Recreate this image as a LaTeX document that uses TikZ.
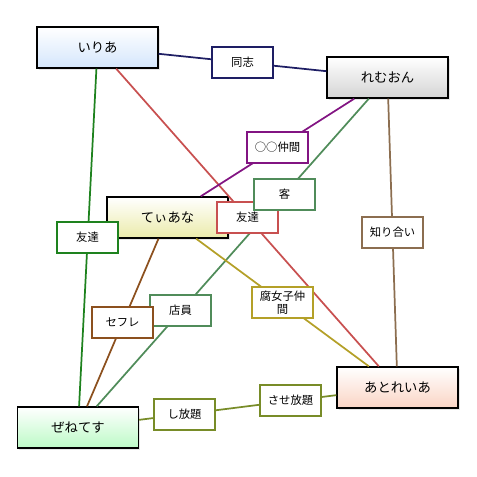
\documentclass[tikz,border=0pt]{standalone}
\usepackage{fontspec}
\setmainfont{Noto Sans CJK JP}
\usetikzlibrary{shadows}

\definecolor{linknavy}{RGB}{30,30,100}
\definecolor{linkgreen}{RGB}{30,130,30}
\definecolor{linkred}{RGB}{200,80,80}
\definecolor{linkpurple}{RGB}{130,20,130}
\definecolor{linkteal}{RGB}{80,140,90}
\definecolor{linktan}{RGB}{140,110,80}
\definecolor{linkbrown}{RGB}{140,80,30}
\definecolor{linkgold}{RGB}{180,160,40}
\definecolor{linkolive}{RGB}{120,140,40}
\definecolor{fillblue}{RGB}{212,230,252}
\definecolor{fillgray}{RGB}{212,212,212}
\definecolor{fillyellow}{RGB}{235,235,170}
\definecolor{fillpink}{RGB}{250,212,196}
\definecolor{fillgreen}{RGB}{188,250,198}

\tikzset{
  person/.style={draw=black, line width=1pt, rectangle, minimum width=90.75pt,
    minimum height=30.75pt, inner sep=0pt, top color=white, bottom color=#1,
    font=\fontsize{10}{12}\selectfont,
    drop shadow={shadow xshift=1.2pt, shadow yshift=-1.2pt, opacity=0.2}},
  rel/.style={draw=#1, line width=0.8pt, fill=white, rectangle, minimum width=45.75pt,
    minimum height=23.25pt, inner sep=1pt, align=center,
    font=\fontsize{8.5}{9.5}\selectfont},
  link/.style={draw=#1, line width=1.3pt}
}

\begin{document}
\begin{tikzpicture}[x=0.75pt, y=-0.75pt]
    \useasboundingbox (0,0) rectangle (476,477);
    \node[person=fillblue] at (97.5, 47.5) (iria) {いりあ};
    \node[person=fillgray] at (387.5, 77.5) (remuon) {れむおん};
    \node[person=fillyellow] at (167.5, 217.5) (tiana) {てぃあな};
    \node[person=fillpink] at (397.5, 387.5) (atoreia) {あとれいあ};
    \node[person=fillgreen] at (78, 427.5) (zenetesu) {ぜねてす};

    \draw
    (iria) edge[link=linknavy] (remuon)
    (iria) edge[link=linkgreen] (zenetesu)
    (iria) edge[link=linkred] (atoreia)
    (remuon) edge[link=linkpurple] (tiana)
    (remuon) edge[link=linkteal] (zenetesu)
    (remuon) edge[link=linktan] (atoreia)
    (tiana) edge[link=linkbrown] (zenetesu)
    (tiana) edge[link=linkgold] (atoreia)
    (zenetesu) edge[link=linkolive] (atoreia);

    \node[rel=linknavy] at (242.5, 62.5) (doushi) {同志};
    \node[rel=linkpurple] at (277.5, 147.5) (nakama) {○○仲間};
    \node[rel=linkred] at (247.5, 217.5) (tomo2) {友達};
    \node[rel=linkteal] at (284.5, 194.5) (kyaku) {客};
    \node[rel=linkgreen] at (87.5, 237.5) (tomo1) {友達};
    \node[rel=linktan] at (392.5, 232.5) (shiri) {知り合い};
    \node[rel=linkgold] at (282.5, 302.5) (fujo) {腐女子仲\\間};
    \node[rel=linkteal] at (180.5, 310.5) (tenin) {店員};
    \node[rel=linkbrown] at (122.5, 322.5) (sefure) {セフレ};
    \node[rel=linkolive] at (290.5, 400.5) (sase) {させ放題};
    \node[rel=linkolive] at (184.5, 414.5) (shi) {し放題};
\end{tikzpicture}
\end{document}
